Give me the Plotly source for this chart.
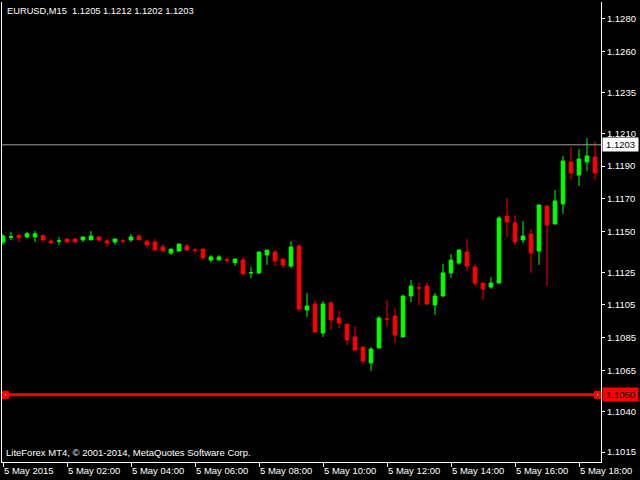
import plotly.graph_objects as go
import pandas as pd

# ---- data (EURUSD M15, 5 May 2015) ----
symbol = "EURUSD,M15"
start_time = "2015-05-05 00:00"
bar_open = [1.11435, 1.11465, 1.11476, 1.11466, 1.11466, 1.11474, 1.11441, 1.11441, 1.11454, 1.11454,
            1.11448, 1.11448, 1.11466, 1.11441, 1.11435, 1.11441, 1.11448, 1.11472, 1.11441, 1.11435,
            1.11405, 1.11368, 1.11380, 1.11411, 1.11386, 1.11392, 1.11325, 1.11325, 1.11325, 1.11309,
            1.11325, 1.11247, 1.11246, 1.11356, 1.11374, 1.11331, 1.11288, 1.11411, 1.11019, 1.11056,
            1.10878, 1.11062, 1.10970, 1.10933, 1.10854, 1.10793, 1.10695, 1.10787, 1.10964, 1.10982,
            1.10854, 1.11105, 1.11154, 1.11166, 1.11050, 1.11105, 1.11246, 1.11307, 1.11374, 1.11282,
            1.11184, 1.11160, 1.11184, 1.11594, 1.11552, 1.11448, 1.11484, 1.11380, 1.11656, 1.11545,
            1.11668, 1.11925, 1.11845, 1.11925, 1.11956]
bar_high = [1.11484, 1.11497, 1.11484, 1.11497, 1.11503, 1.11484, 1.11454, 1.11466, 1.11454, 1.11454,
            1.11466, 1.11503, 1.11472, 1.11454, 1.11454, 1.11454, 1.11484, 1.11484, 1.11441, 1.11454,
            1.11423, 1.11392, 1.11423, 1.11423, 1.11399, 1.11392, 1.11356, 1.11356, 1.11344, 1.11331,
            1.11344, 1.11282, 1.11374, 1.11386, 1.11386, 1.11331, 1.11441, 1.11423, 1.11123, 1.11080,
            1.11074, 1.11074, 1.11013, 1.10933, 1.10921, 1.10793, 1.10793, 1.10982, 1.11080, 1.11031,
            1.11111, 1.11203, 1.11184, 1.11190, 1.11123, 1.11301, 1.11362, 1.11392, 1.11454, 1.11301,
            1.11184, 1.11221, 1.11594, 1.11705, 1.11600, 1.11564, 1.11515, 1.11662, 1.11656, 1.11754,
            1.11962, 1.12017, 1.12004, 1.12072, 1.12053]
bar_low = [1.11417, 1.11448, 1.11435, 1.11458, 1.11435, 1.11437, 1.11429, 1.11417, 1.11435, 1.11435,
           1.11435, 1.11448, 1.11435, 1.11405, 1.11417, 1.11429, 1.11435, 1.11448, 1.11399, 1.11386,
           1.11380, 1.11356, 1.11380, 1.11380, 1.11368, 1.11325, 1.11309, 1.11325, 1.11309, 1.11290,
           1.11239, 1.11215, 1.11239, 1.11295, 1.11288, 1.11276, 1.11276, 1.11007, 1.10976, 1.10878,
           1.10854, 1.10897, 1.10909, 1.10805, 1.10774, 1.10689, 1.10646, 1.10787, 1.10915, 1.10817,
           1.10854, 1.11068, 1.11050, 1.11050, 1.10989, 1.11099, 1.11215, 1.11295, 1.11258, 1.11166,
           1.11080, 1.11148, 1.11184, 1.11466, 1.11417, 1.11429, 1.11246, 1.11295, 1.11166, 1.11545,
           1.11607, 1.11815, 1.11778, 1.11870, 1.11815]
bar_close = [1.11472, 1.11467, 1.11462, 1.11486, 1.11486, 1.11448, 1.11429, 1.11441, 1.11435, 1.11435,
             1.11466, 1.11472, 1.11448, 1.11429, 1.11454, 1.11441, 1.11466, 1.11448, 1.11417, 1.11386,
             1.11380, 1.11392, 1.11423, 1.11386, 1.11386, 1.11339, 1.11344, 1.11344, 1.11325, 1.11331,
             1.11239, 1.11247, 1.11374, 1.11386, 1.11319, 1.11295, 1.11405, 1.11025, 1.11044, 1.10885,
             1.11056, 1.10958, 1.10940, 1.10836, 1.10774, 1.10707, 1.10780, 1.10970, 1.10964, 1.10866,
             1.11105, 1.11166, 1.11154, 1.11056, 1.11105, 1.11246, 1.11325, 1.11386, 1.11288, 1.11184,
             1.11148, 1.11184, 1.11582, 1.11558, 1.11435, 1.11472, 1.11368, 1.11662, 1.11539, 1.11686,
             1.11931, 1.11858, 1.11943, 1.11962, 1.11858]

last_bar = ["1.1205", "1.1212", "1.1202", "1.1203"]   # O H L C of current bar
bid_price = 1.1203
hline_price = 1.1050

ytick_vals = [1.1280, 1.1260, 1.1235, 1.1210, 1.1190, 1.1170, 1.1150, 1.1125,
              1.1105, 1.1085, 1.1065, 1.1040, 1.1015]
ytick_text = ["%.4f" % v for v in ytick_vals]
xtick_times = pd.date_range("2015-05-05 00:00", "2015-05-05 18:00", freq="2h")
xtick_text = ["5 May 2015"] + ["5 May %s" % t.strftime("%H:%M") for t in xtick_times[1:]]

times = pd.date_range(start_time, periods=len(bar_open), freq="15min")

FONT = "Liberation Sans, Arial, sans-serif"
GREEN = "#00ff00"
RED = "#ff0000"

fig = go.Figure()
fig.add_trace(go.Candlestick(
    x=times, open=bar_open, high=bar_high, low=bar_low, close=bar_close,
    increasing=dict(line=dict(color=GREEN, width=1), fillcolor=GREEN),
    decreasing=dict(line=dict(color=RED, width=1), fillcolor=RED),
    whiskerwidth=0, showlegend=False, hoverinfo="skip",
))

# bid line
fig.add_shape(type="line", xref="paper", x0=0, x1=1, yref="y", y0=bid_price, y1=bid_price,
              line=dict(color="#a0a0a0", width=1))
# horizontal line object
fig.add_shape(type="line", xref="paper", x0=0, x1=1, yref="y", y0=hline_price, y1=hline_price,
              line=dict(color=RED, width=3))
for anchor, px0, px1 in [(0, 0, 7), (1, -7, 0)]:
    fig.add_shape(type="rect", xref="paper", xsizemode="pixel", xanchor=anchor, x0=px0, x1=px1,
                  yref="y", ysizemode="pixel", yanchor=hline_price, y0=-4, y1=4,
                  line=dict(width=0), fillcolor=RED)
    cx = (px0 + px1) / 2
    fig.add_shape(type="rect", xref="paper", xsizemode="pixel", xanchor=anchor, x0=cx - 0.5, x1=cx + 0.5,
                  yref="y", ysizemode="pixel", yanchor=hline_price, y0=-0.5, y1=0.5,
                  line=dict(width=0), fillcolor="white")

# price labels on the right axis
fig.add_annotation(xref="paper", x=1, xanchor="left", xshift=1, yref="y", y=bid_price, yanchor="middle",
                   text="%.4f" % bid_price, showarrow=False, bgcolor="white",
                   font=dict(family=FONT, size=9.5, color="black"), borderpad=1, width=33)
fig.add_annotation(xref="paper", x=1, xanchor="left", xshift=1, yref="y", y=hline_price, yanchor="middle",
                   text="%.4f" % hline_price, showarrow=False, bgcolor=RED,
                   font=dict(family=FONT, size=9.5, color="black"), borderpad=1, width=33)

# header and footer texts
fig.add_annotation(xref="paper", x=0, xanchor="left", xshift=3, yref="paper", y=1, yanchor="top",
                   yshift=-2, text=symbol + "\u00a0\u00a0" + " ".join(last_bar), showarrow=False,
                   font=dict(family=FONT, size=9.3, color="white"))
fig.add_annotation(xref="paper", x=0, xanchor="left", xshift=2, yref="paper", y=0, yanchor="bottom",
                   yshift=2, text="LiteForex MT4, \u00a9 2001-2014, MetaQuotes Software Corp.",
                   showarrow=False, font=dict(family=FONT, size=9.5, color="white"))

fig.update_layout(
    width=640, height=480,
    margin=dict(l=2, r=39, t=2, b=18),
    paper_bgcolor="black", plot_bgcolor="black",
    font=dict(family=FONT, size=9.5, color="white"),
    showlegend=False, boxgap=0.35,
    xaxis=dict(
        type="date",
        range=["2015-05-04 23:58:07.5", "2015-05-05 18:41:15"],
        rangeslider=dict(visible=False),
        showgrid=False, zeroline=False,
        showline=True, linecolor="white", linewidth=1,
        ticks="outside", ticklen=4, tickcolor="white", tickwidth=1,
        tickvals=xtick_times, ticktext=xtick_text,
        ticklabelposition="outside right",
        tickfont=dict(family=FONT, size=9.5, color="white"),
    ),
    yaxis=dict(
        side="right",
        range=[1.10089, 1.12904],
        showgrid=False, zeroline=False,
        showline=True, mirror=True, linecolor="white", linewidth=1,
        ticks="outside", ticklen=3, tickcolor="white", tickwidth=1,
        tickvals=ytick_vals, ticktext=ytick_text,
        tickfont=dict(family=FONT, size=9.5, color="white"),
    ),
)

fig.write_html("out.html", config={"displayModeBar": False},
               post_script="document.body.style.margin='0';document.body.style.background='black';"
                           "document.body.style.overflow='hidden';")
